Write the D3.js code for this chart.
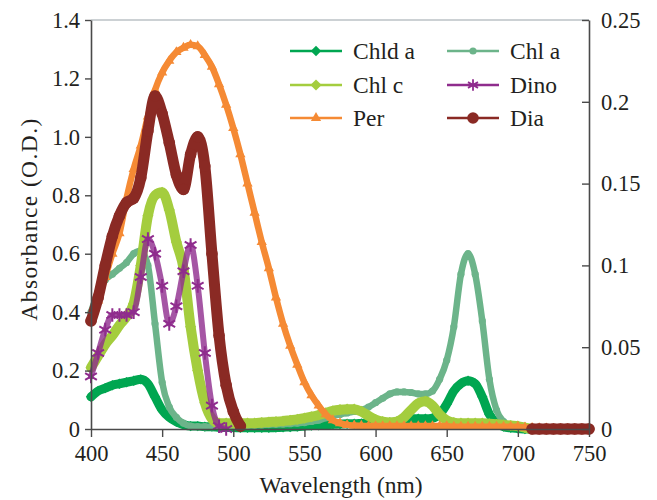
<!DOCTYPE html>
<html><head><meta charset="utf-8">
<script src="https://cdn.jsdelivr.net/npm/d3@7"></script>
<style>
body{margin:0;background:#fff}
</style>
</head><body>
<svg id="c" width="657" height="500"></svg>
<script>
// ---------- data ----------
const wavelength = [400,405,410,415,420,425,430,435,440,445,450,455,460,465,470,475,480,485,490,495,
  500,505,510,515,520,525,530,535,540,545,550,555,560,565,570,575,580,585,590,595,
  600,605,610,615,620,625,630,635,640,645,650,655,660,665,670,675,680,685,690,695,
  700,705,710,715,720,725,730,735,740,745,750];

const chldA = [0.11,0.13,0.14,0.15,0.155,0.16,0.165,0.17,0.155,0.11,
  0.065,0.04,0.025,0.015,0.01,0.01,0.008,0.008,0.006,0.005,
  0.005,0.004,0.004,0.004,0.004,0.004,0.005,0.006,0.007,0.008,
  0.01,0.012,0.013,0.015,0.016,0.017,0.018,0.018,0.019,0.02,
  0.02,0.02,0.022,0.025,0.03,0.035,0.035,0.035,0.037,0.05,
  0.085,0.13,0.155,0.165,0.155,0.11,0.05,0.02,0.008,0.004,
  0.002,0,0,0,0,0,0,0,0,0,0];

const chlA = [0.40,0.47,0.51,0.53,0.55,0.57,0.60,0.61,0.56,0.36,
  0.16,0.075,0.04,0.02,0.01,0.008,0.008,0.008,0.008,0.008,
  0.01,0.01,0.012,0.013,0.014,0.015,0.016,0.017,0.018,0.02,
  0.022,0.026,0.03,0.038,0.045,0.05,0.055,0.06,0.065,0.075,
  0.09,0.105,0.12,0.127,0.127,0.125,0.12,0.12,0.13,0.17,
  0.235,0.35,0.53,0.60,0.53,0.37,0.17,0.065,0.025,0.01,
  0.005,0.003,0,0,0,0,0,0,0,0,0];

const chlC = [0.21,0.25,0.29,0.32,0.355,0.385,0.43,0.56,0.73,0.80,
  0.81,0.75,0.64,0.55,0.35,0.20,0.09,0.035,0.02,0.02,
  0.02,0.02,0.02,0.02,0.022,0.024,0.025,0.027,0.03,0.033,
  0.037,0.042,0.048,0.055,0.062,0.066,0.068,0.068,0.06,0.045,
  0.032,0.025,0.022,0.025,0.04,0.065,0.088,0.095,0.08,0.05,
  0.03,0.022,0.02,0.02,0.02,0.02,0.018,0.016,0.014,0.012,
  0.01,0.005,0,0,0,0,0,0,0,0,0];

const per = [0.37,0.44,0.52,0.60,0.67,0.79,0.89,0.97,1.07,1.16,
  1.22,1.26,1.29,1.305,1.315,1.31,1.28,1.24,1.18,1.11,
  1.03,0.94,0.84,0.74,0.64,0.55,0.45,0.36,0.285,0.22,
  0.16,0.115,0.08,0.05,0.03,0.02,0.014,0.012,0.011,0.01,
  0.01,0.01,0.01,0.01,0.01,0.01,0.01,0.01,0.01,0.01,
  0.01,0.008,0.008,0.008,0.008,0.008,0.008,0.008,0.008,0.008,
  0.008,0.005,0.004,0.003,0.002,0,0,0,0,0,0];

const dino = [0.18,0.26,0.34,0.39,0.39,0.39,0.40,0.52,0.65,0.60,
  0.49,0.36,0.42,0.54,0.63,0.49,0.26,0.08,0.01,0,
  null,null,null,null,null,null,null,null,null,null,
  null,null,null,null,null,null,null,null,null,null,
  null,null,null,null,null,null,null,null,null,null,
  null,null,null,null,null,null,null,null,null,null,
  null,null,null,null,null,null,null,null,null,null,null];

const dia = [0.37,0.45,0.56,0.66,0.73,0.775,0.79,0.86,1.02,1.14,
  1.08,0.98,0.87,0.82,0.94,1.00,0.90,0.60,0.32,0.15,
  0.06,0.01,null,null,null,null,null,null,null,null,
  null,null,null,null,null,null,null,null,null,null,
  null,null,null,null,null,null,null,null,null,null,
  null,null,null,null,null,null,null,null,null,null,
  null,null,0,0,0,0,0,0,0,0,0];

const seriesNames = ["Chld a","Chl a","Chl c","Per","Dino","Dia"];
const xTicks = [400,450,500,550,600,650,700,750];
const leftTicks = [0,0.2,0.4,0.6,0.8,1.0,1.2,1.4];
const leftTickLabels = ["0","0.2","0.4","0.6","0.8","1.0","1.2","1.4"];
const rightTicks = [0,0.05,0.1,0.15,0.2,0.25];
const rightTickLabels = ["0","0.05","0.1","0.15","0.2","0.25"];

// ---------- styles ----------
const FONT = '"Liberation Serif", "Times New Roman", Tinos, serif';
const styles = {
  "Chld a": {values: chldA, color:"#00a651", marker:"diamond", size:5.2, lw:9},
  "Chl a":  {values: chlA,  color:"#6cb48a", marker:"circle",  size:3.6, lw:6.5},
  "Chl c":  {values: chlC,  color:"#a4cd3e", marker:"diamond", size:5.6, lw:10},
  "Per":    {values: per,   color:"#f58a34", marker:"triangle",size:4.2, lw:6.5},
  "Dino":   {values: dino,  color:"#8f2c8d", marker:"asterisk",size:6.8, lw:6},
  "Dia":    {values: dia,   color:"#8a2a24", marker:"circle",  size:5.8, lw:11}
};
const drawOrder = ["Chld a","Chl a","Chl c","Per","Dino","Dia"];

const svg = d3.select("#c");
const L = 91, R = 589, T = 20, B = 429;
const x = d3.scaleLinear().domain([400,750]).range([L,R]);
const y = d3.scaleLinear().domain([0,1.4]).range([B,T]);
const y2 = d3.scaleLinear().domain([0,0.25]).range([B,T]);

function drawMarker(g, type, cx, cy, s, color, sw){
  if(type==="circle"){
    g.append("circle").attr("cx",cx).attr("cy",cy).attr("r",s).attr("fill",color);
  } else if(type==="diamond"){
    const h = s;
    g.append("path").attr("d",`M${cx},${cy-h}L${cx+h},${cy}L${cx},${cy+h}L${cx-h},${cy}Z`).attr("fill",color);
  } else if(type==="triangle"){
    g.append("path").attr("d",d3.symbol(d3.symbolTriangle, s*s*2.6)()).attr("transform",`translate(${cx},${cy})`).attr("fill",color);
  } else if(type==="asterisk"){
    const a = s*0.866, b = s*0.5;
    g.append("path").attr("d",`M${cx},${cy-s}L${cx},${cy+s}M${cx-a},${cy-b}L${cx+a},${cy+b}M${cx-a},${cy+b}L${cx+a},${cy-b}`)
      .attr("stroke",color).attr("stroke-width",sw||1.8).attr("fill","none");
  }
}

// top frame line
svg.append("line").attr("x1",L).attr("x2",R).attr("y1",T).attr("y2",T)
  .attr("stroke","#9aa3aa").attr("stroke-width",1.2);

// series
const plot = svg.append("g");
drawOrder.forEach(name=>{
  const st = styles[name];
  const pts = wavelength.map((w,i)=>({w, v: st.values[i]}));
  const line = d3.line().defined(d=>d.v!==null).x(d=>x(d.w)).y(d=>y(d.v)).curve(d3.curveMonotoneX);
  const g = plot.append("g");
  g.append("path").attr("d",line(pts)).attr("fill","none").attr("stroke",st.color)
    .attr("stroke-width",st.lw).attr("stroke-linejoin","round").attr("stroke-linecap","round")
    .attr("stroke-opacity", name==="Dino" ? 0.8 : 1);
  pts.filter(d=>d.v!==null).forEach(d=>drawMarker(g, st.marker, x(d.w), y(d.v), st.size, st.color, 2));
});

// axes
const axisColor = "#4a4a4a";
const gl = svg.append("g").attr("transform",`translate(${L},0)`)
  .call(d3.axisLeft(y).tickValues(leftTicks).tickFormat((d,i)=>leftTickLabels[i]).tickSizeInner(6).tickSizeOuter(0).tickPadding(5));
const gr = svg.append("g").attr("transform",`translate(${R},0)`)
  .call(d3.axisRight(y2).tickValues(rightTicks).tickFormat((d,i)=>rightTickLabels[i]).tickSizeInner(-7).tickSizeOuter(0).tickPadding(12));
const gb = svg.append("g").attr("transform",`translate(0,${B})`)
  .call(d3.axisBottom(x).tickValues(xTicks).tickSizeInner(8).tickSizeOuter(0));
gb.selectAll(".tick text").attr("y",32).attr("dy",0);
[gl,gr,gb].forEach(g=>{
  g.selectAll("path.domain").attr("stroke",axisColor).attr("stroke-width",1.6);
  g.selectAll(".tick line").attr("stroke",axisColor).attr("stroke-width",1.4);
  g.selectAll(".tick text").style("font-family",FONT).style("font-size","22.5px").style("fill","#231f20");
});

// axis titles
svg.append("text").attr("transform","translate(37,219) rotate(-90)").attr("text-anchor","middle")
  .style("font-family",FONT).style("font-size","23.5px").style("letter-spacing","1.4px").style("fill","#231f20")
  .text("Absorbance (O.D.)");
svg.append("text").attr("x",341).attr("y",493).attr("text-anchor","middle")
  .style("font-family",FONT).style("font-size","23.5px").style("fill","#231f20")
  .text("Wavelength (nm)");

// legend
const legendPos = {
  "Chld a":[290,51], "Chl c":[290,85], "Per":[290,118],
  "Chl a":[447,51], "Dino":[447,85], "Dia":[447,118]
};
const lg = svg.append("g");
seriesNames.forEach(name=>{
  const st = styles[name]; const [lx,ly] = legendPos[name];
  lg.append("line").attr("x1",lx).attr("x2",lx+52).attr("y1",ly).attr("y2",ly)
    .attr("stroke",st.color).attr("stroke-width",2.6);
  drawMarker(lg, st.marker, lx+26, ly, name==="Dino" ? 5.8 : st.size, st.color, 1.8);
  lg.append("text").attr("x",lx+63).attr("y",ly+8)
    .style("font-family",FONT).style("font-size","23.5px").style("fill","#231f20").text(name);
});
</script>
</body></html>
